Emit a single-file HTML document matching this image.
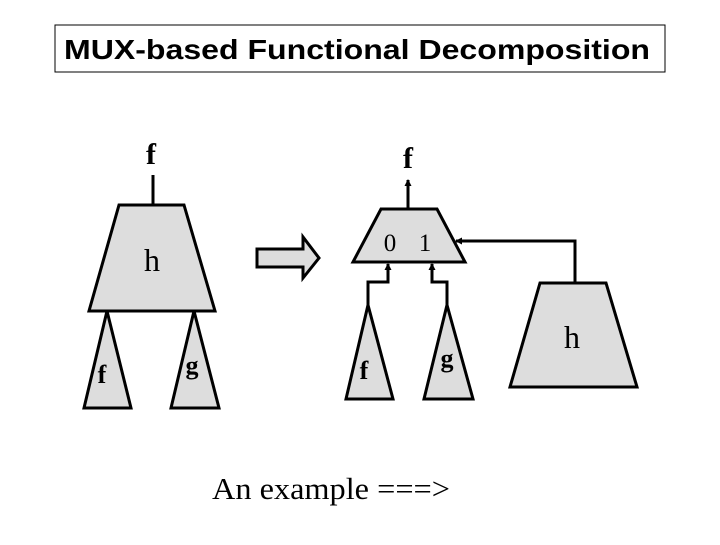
<!DOCTYPE html>
<html><head><meta charset="utf-8"><style>
body{margin:0;background:#fff;width:720px;height:540px;overflow:hidden}
</style></head><body>
<svg width="720" height="540" xmlns="http://www.w3.org/2000/svg">
<defs><marker id="a" markerWidth="7" markerHeight="7" refX="6" refY="3.5" orient="auto" markerUnits="userSpaceOnUse"><path d="M0,0 L7,3.5 L0,7z" fill="#000"/></marker></defs>
<rect x="55" y="25" width="610" height="47" fill="#fff" stroke="#000" stroke-width="1"/>
<text x="357" y="59" text-anchor="middle" font-family="Liberation Sans, sans-serif" font-size="28" font-weight="bold" textLength="586" lengthAdjust="spacingAndGlyphs">MUX-based Functional Decomposition</text>
<g stroke="#000" stroke-width="3" fill="#ddd">
<line x1="153" y1="175" x2="153" y2="205"/>
<polygon points="119,205 184,205 215,311 89,311"/>
<polygon points="107,311 131,408 84,408"/>
<polygon points="194,311 219,408 171,408"/>
<polygon points="257,249 303,249 303,237 319,258 303,278 303,267 257,267"/>
<polygon points="381,209 437,209 465,262 353,262"/>
<polygon points="540,283 606,283 637,387 510,387"/>
<polygon points="368,305 393,399 346,399"/>
<polygon points="447,305 473,399 424,399"/>
</g>
<g stroke="#000" stroke-width="3" fill="none">
<polyline points="408,209 408,180" marker-end="url(#a)"/>
<polyline points="575,283 575,241 456,241" marker-end="url(#a)"/>
<polyline points="368,305 368,282 388,282 388,264" marker-end="url(#a)"/>
<polyline points="447,305 447,282 432,282 432,264" marker-end="url(#a)"/>
</g>
<g font-family="Liberation Serif, serif" text-anchor="middle">
<text x="151" y="164" font-size="30" font-weight="bold">f</text>
<text x="408" y="168" font-size="30" font-weight="bold">f</text>
<text x="152" y="271" font-size="32">h</text>
<text x="572" y="348" font-size="32">h</text>
<text x="390" y="251" font-size="25">0</text>
<text x="425" y="251" font-size="25">1</text>
<text x="102" y="383" font-size="26" font-weight="bold">f</text>
<text x="192" y="374" font-size="26" font-weight="bold">g</text>
<text x="364" y="379" font-size="26" font-weight="bold">f</text>
<text x="447" y="367" font-size="26" font-weight="bold">g</text>
<text x="331" y="499" font-size="31" textLength="238" lengthAdjust="spacingAndGlyphs">An example ===&gt;</text>
</g>
</svg>
</body></html>
